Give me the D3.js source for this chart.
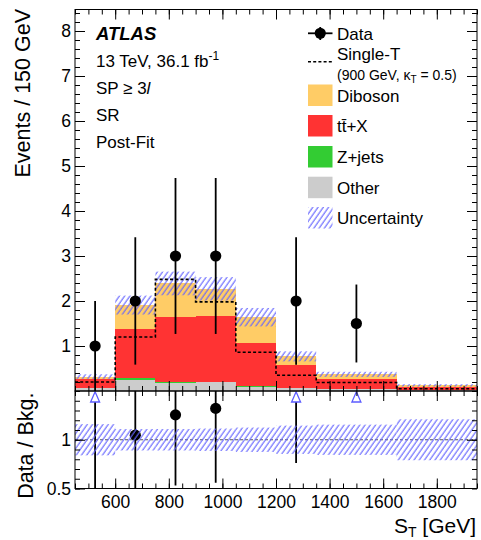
<!DOCTYPE html>
<html>
<head>
<meta charset="utf-8">
<script src="https://cdn.jsdelivr.net/npm/d3@7"></script>
<style>
  html, body { margin: 0; padding: 0; background: #fff; }
  svg { display: block; font-family: "Liberation Sans", Arial, Helvetica, sans-serif; }
</style>
</head>
<body>
<svg id="chart" width="481" height="540"></svg>
<script>
// ---------------- DATA ----------------
const binEdges = [450, 600, 750, 900, 1050, 1200, 1350, 1650, 1950];
const otherBkg = [0.06, 0.24, 0.18, 0.19, 0.09, 0.06, 0.04, 0.025];
const zjetsBkg = [0.01, 0.04, 0.01, 0.02, 0.02, 0.01, 0.01, 0.005];
const ttxBkg   = [0.20, 1.10, 1.46, 1.45, 0.96, 0.50, 0.21, 0.055];
const dibosonBkg = [0.05, 0.53, 0.74, 0.61, 0.57, 0.20, 0.11, 0.04];
const relUncertainty = [0.16, 0.11, 0.11, 0.115, 0.125, 0.145, 0.155, 0.21];
const singleT = [0.20, 1.20, 2.48, 1.98, 0.86, 0.35, 0.19, 0.05];
const dataX = [525, 675, 825, 975, 1125, 1275, 1500, 1800];
const dataY = [1, 2, 3, 3, 0, 2, 1.5, 0];
const dataErr = [1, 1.414, 1.732, 1.732, 0, 1.414, 0.866, 0];
const xTickLabels = [600, 800, 1000, 1200, 1400, 1600, 1800];
const yTickLabels = [1, 2, 3, 4, 5, 6, 7, 8];
const ratioTickLabels = [0.5, 1];

const colors = { other: "#cccccc", zjets: "#33cc33", ttx: "#ff3333", diboson: "#ffcc66" };
const hatchColor = "#6262ff";

// ---------------- LAYOUT ----------------
const L = 75, R = 477, T = 9.5, MB = 391, RB = 488.5;
const svg = d3.select("#chart");

const x = d3.scaleLinear().domain([450, 1950]).range([L, R]);
const y = d3.scaleLinear().domain([0, 8.478]).range([MB, T]);
const yr = d3.scaleLinear().domain([0.5, 1.5]).range([RB, MB]);

// hatch pattern
const defs = svg.append("defs");
const pat = defs.append("pattern").attr("id", "hatch")
  .attr("patternUnits", "userSpaceOnUse").attr("width", 4.3).attr("height", 10)
  .attr("patternTransform", "rotate(35)");
pat.append("line").attr("x1", 1).attr("y1", 0).attr("x2", 1).attr("y2", 10)
  .attr("stroke", hatchColor).attr("stroke-width", 1.1);

defs.append("clipPath").attr("id", "clipMain").append("rect")
  .attr("x", L).attr("y", T).attr("width", R - L).attr("height", MB - T);
defs.append("clipPath").attr("id", "clipRatio").append("rect")
  .attr("x", L).attr("y", MB).attr("width", R - L).attr("height", RB - MB);

// ---------------- MAIN PANEL ----------------
const rows = binEdges.slice(0, -1).map((lo, i) => ({
  lo, hi: binEdges[i + 1],
  other: otherBkg[i], zjets: zjetsBkg[i], ttx: ttxBkg[i], diboson: dibosonBkg[i]
}));
const keys = ["other", "zjets", "ttx", "diboson"];
const stacked = d3.stack().keys(keys)(rows);
const totals = rows.map(r => r.other + r.zjets + r.ttx + r.diboson);

const gMain = svg.append("g").attr("clip-path", "url(#clipMain)");
stacked.forEach(layer => {
  gMain.append("g").selectAll("rect").data(layer).join("rect")
    .attr("x", d => x(d.data.lo))
    .attr("width", d => x(d.data.hi) - x(d.data.lo))
    .attr("y", d => y(d[1]))
    .attr("height", d => y(d[0]) - y(d[1]))
    .attr("fill", colors[layer.key])
    .attr("shape-rendering", "crispEdges");
});

// uncertainty band
gMain.append("g").selectAll("rect").data(rows).join("rect")
  .attr("x", (d) => x(d.lo))
  .attr("width", d => x(d.hi) - x(d.lo))
  .attr("y", (d, i) => y(totals[i] * (1 + relUncertainty[i])))
  .attr("height", (d, i) => y(totals[i] * (1 - relUncertainty[i])) - y(totals[i] * (1 + relUncertainty[i])))
  .attr("fill", "url(#hatch)");

// signal step line
const sigPts = [];
rows.forEach((r, i) => { sigPts.push([r.lo, singleT[i]]); sigPts.push([r.hi, singleT[i]]); });
gMain.append("path")
  .attr("d", d3.line().x(d => x(d[0])).y(d => y(d[1]))(sigPts))
  .attr("fill", "none").attr("stroke", "#000").attr("stroke-width", 1.6)
  .attr("stroke-dasharray", "3,2.2");

// data points
const dataPts = dataX.map((xv, i) => ({ x: xv, y: dataY[i], e: dataErr[i], tot: totals[i] }))
  .filter(d => d.y > 0);
const gData = svg.append("g").attr("clip-path", "url(#clipMain)");
gData.selectAll("line").data(dataPts).join("line")
  .attr("x1", d => x(d.x)).attr("x2", d => x(d.x))
  .attr("y1", d => y(d.y + d.e)).attr("y2", d => y(Math.max(0, d.y - d.e)))
  .attr("stroke", "#000").attr("stroke-width", 1.8);
gData.selectAll("circle").data(dataPts).join("circle")
  .attr("cx", d => x(d.x)).attr("cy", d => y(d.y)).attr("r", 5.6).attr("fill", "#000");

// ---------------- RATIO PANEL ----------------
const gRatio = svg.append("g").attr("clip-path", "url(#clipRatio)");
gRatio.append("line").attr("x1", L).attr("x2", R).attr("y1", yr(1)).attr("y2", yr(1))
  .attr("stroke", "#555").attr("stroke-width", 1).attr("stroke-dasharray", "3,2");

const ratioPts = dataPts.map(d => ({
  x: d.x, r: d.y / d.tot, lo: (d.y - d.e) / d.tot, hi: (d.y + d.e) / d.tot
}));
const inRange = ratioPts.filter(d => d.r <= 1.5);
const offRange = ratioPts.filter(d => d.r > 1.5);
const triBase = yr(1.5) + 11;

gRatio.selectAll("line.err").data(ratioPts.filter(d => d.lo < 1.5)).join("line")
  .attr("class", "err")
  .attr("x1", d => x(d.x)).attr("x2", d => x(d.x))
  .attr("y1", d => d.r > 1.5 ? triBase : yr(Math.min(1.6, d.hi)))
  .attr("y2", d => yr(Math.max(0.4, d.lo)))
  .attr("stroke", "#000").attr("stroke-width", 1.8);
gRatio.selectAll("circle").data(inRange).join("circle")
  .attr("cx", d => x(d.x)).attr("cy", d => yr(d.r)).attr("r", 5.6).attr("fill", "#000");
gRatio.selectAll("path.tri").data(offRange).join("path")
  .attr("class", "tri")
  .attr("d", d => `M${x(d.x)},${yr(1.5) + 0.8} L${x(d.x) + 4.5},${triBase} L${x(d.x) - 4.5},${triBase} Z`)
  .attr("fill", "#fff").attr("stroke", "#5c5cff").attr("stroke-width", 1.3);

// ratio uncertainty band (drawn over points as in the original)
gRatio.append("g").selectAll("rect").data(rows).join("rect")
  .attr("x", d => x(d.lo))
  .attr("width", d => x(d.hi) - x(d.lo))
  .attr("y", (d, i) => yr(1 + relUncertainty[i]))
  .attr("height", (d, i) => yr(1 - relUncertainty[i]) - yr(1 + relUncertainty[i]))
  .attr("fill", "url(#hatch)");

// ---------------- AXES ----------------
const fontTick = 17.5;
function styleAxis(g) {
  g.select(".domain").remove();
  g.selectAll("line").attr("stroke", "#000").attr("stroke-width", 1);
  g.selectAll("text").attr("font-size", fontTick).attr("fill", "#000")
    .attr("font-family", "'Liberation Sans', Arial, sans-serif");
}
const xMinor = d3.range(450, 1951, 50);
const yMinor = d3.range(0, 8.5, 0.2);
const rMinor = d3.range(0.5, 1.51, 0.1);

function xAxes(yPos, top, labels) {
  const mk = top ? d3.axisTop : d3.axisBottom;
  svg.append("g").attr("transform", `translate(0,${yPos})`)
    .call(mk(x).tickValues(xMinor).tickSize(-5).tickFormat(""))
    .call(styleAxis);
  svg.append("g").attr("transform", `translate(0,${yPos})`)
    .call(mk(x).tickValues(xTickLabels).tickSize(-10).tickPadding(7.5)
      .tickFormat(labels ? d3.format("d") : ""))
    .call(styleAxis);
}
xAxes(T, true, false);
xAxes(MB, false, false);
xAxes(MB, true, false);
xAxes(RB, false, true);

// main y
svg.append("g").attr("transform", `translate(${L},0)`)
  .call(d3.axisLeft(y).tickValues(yMinor).tickSize(-5).tickFormat("")).call(styleAxis);
svg.append("g").attr("transform", `translate(${L},0)`)
  .call(d3.axisLeft(y).tickValues(yTickLabels).tickSize(-10).tickPadding(4).tickFormat(d3.format("d")))
  .call(styleAxis);
svg.append("g").attr("transform", `translate(${R},0)`)
  .call(d3.axisRight(y).tickValues(yMinor).tickSize(-5).tickFormat("")).call(styleAxis);
svg.append("g").attr("transform", `translate(${R},0)`)
  .call(d3.axisRight(y).tickValues(yTickLabels).tickSize(-10).tickFormat("")).call(styleAxis);

// ratio y
svg.append("g").attr("transform", `translate(${L},0)`)
  .call(d3.axisLeft(yr).tickValues(rMinor).tickSize(-5).tickFormat("")).call(styleAxis);
svg.append("g").attr("transform", `translate(${L},0)`)
  .call(d3.axisLeft(yr).tickValues(ratioTickLabels).tickSize(-10).tickPadding(4).tickFormat(d => d === 1 ? "1" : "0.5"))
  .call(styleAxis);
svg.append("g").attr("transform", `translate(${R},0)`)
  .call(d3.axisRight(yr).tickValues(rMinor).tickSize(-5).tickFormat("")).call(styleAxis);
svg.append("g").attr("transform", `translate(${R},0)`)
  .call(d3.axisRight(yr).tickValues([1]).tickSize(-10).tickFormat("")).call(styleAxis);

// frames
svg.append("rect").attr("x", L).attr("y", T).attr("width", R - L).attr("height", MB - T)
  .attr("fill", "none").attr("stroke", "#000").attr("stroke-width", 1);
svg.append("rect").attr("x", L).attr("y", MB).attr("width", R - L).attr("height", RB - MB)
  .attr("fill", "none").attr("stroke", "#000").attr("stroke-width", 1);

// axis titles
svg.append("text").attr("transform", "translate(30,9) rotate(-90)")
  .attr("text-anchor", "end").attr("font-size", 21.5).text("Events / 150 GeV");
svg.append("text").attr("transform", "translate(33,392.5) rotate(-90)")
  .attr("text-anchor", "end").attr("font-size", 21.5).text("Data / Bkg.");
const xt = svg.append("text").attr("x", 476).attr("y", 533).attr("text-anchor", "end").attr("font-size", 21);
xt.append("tspan").text("S");
xt.append("tspan").attr("font-size", 14).attr("dy", 4).text("T");
xt.append("tspan").attr("dy", -4).text(" [GeV]");

// ---------------- LABELS ----------------
const fs = 17;
svg.append("text").attr("x", 96).attr("y", 40).attr("font-size", 18.5)
  .attr("font-weight", "bold").attr("font-style", "italic").text("ATLAS");
const l2 = svg.append("text").attr("x", 96).attr("y", 66.7).attr("font-size", fs);
l2.append("tspan").text("13 TeV, 36.1 fb");
l2.append("tspan").attr("font-size", 12).attr("dy", -7).text("-1");
const l3 = svg.append("text").attr("x", 96).attr("y", 94).attr("font-size", fs);
l3.append("tspan").text("SP \u2265 3");
l3.append("tspan").attr("font-style", "italic").text("l");
svg.append("text").attr("x", 96).attr("y", 120.7).attr("font-size", fs).text("SR");
svg.append("text").attr("x", 96).attr("y", 148.3).attr("font-size", fs).text("Post-Fit");

// ---------------- LEGEND ----------------
const lgx = 308, lgw = 24.5, lgtx = 337;
const lg = svg.append("g");
lg.append("line").attr("x1", lgx).attr("x2", lgx + lgw).attr("y1", 33.3).attr("y2", 33.3).attr("stroke", "#000").attr("stroke-width", 1.8);
lg.append("line").attr("x1", lgx + lgw / 2).attr("x2", lgx + lgw / 2).attr("y1", 27).attr("y2", 40).attr("stroke", "#000").attr("stroke-width", 1.8);
lg.append("circle").attr("cx", lgx + lgw / 2).attr("cy", 33.3).attr("r", 5.6).attr("fill", "#000");
lg.append("text").attr("x", lgtx).attr("y", 39.5).attr("font-size", fs).text("Data");

lg.append("line").attr("x1", lgx).attr("x2", lgx + lgw).attr("y1", 61.7).attr("y2", 61.7)
  .attr("stroke", "#000").attr("stroke-width", 1.6).attr("stroke-dasharray", "3,2.2");
lg.append("text").attr("x", lgtx).attr("y", 60).attr("font-size", fs).text("Single-T");
const sub = lg.append("text").attr("x", lgtx).attr("y", 80).attr("font-size", 14);
sub.append("tspan").text("(900 GeV, \u03BA");
sub.append("tspan").attr("font-size", 10).attr("dy", 3).text("T");
sub.append("tspan").attr("dy", -3).text(" = 0.5)");

const boxItems = [
  { label: "Diboson", fill: colors.diboson, top: 84.5 },
  { label: "t\u0074\u0304+X", fill: colors.ttx, top: 115 },
  { label: "Z+jets", fill: colors.zjets, top: 146 },
  { label: "Other", fill: colors.other, top: 176.7 },
  { label: "Uncertainty", fill: "url(#hatch)", top: 207 }
];
boxItems.forEach(b => {
  lg.append("rect").attr("x", lgx).attr("y", b.top).attr("width", lgw).attr("height", 21.5).attr("fill", b.fill);
  lg.append("text").attr("x", lgtx).attr("y", b.top + 17.2).attr("font-size", fs).text(b.label);
});
</script>
</body>
</html>
